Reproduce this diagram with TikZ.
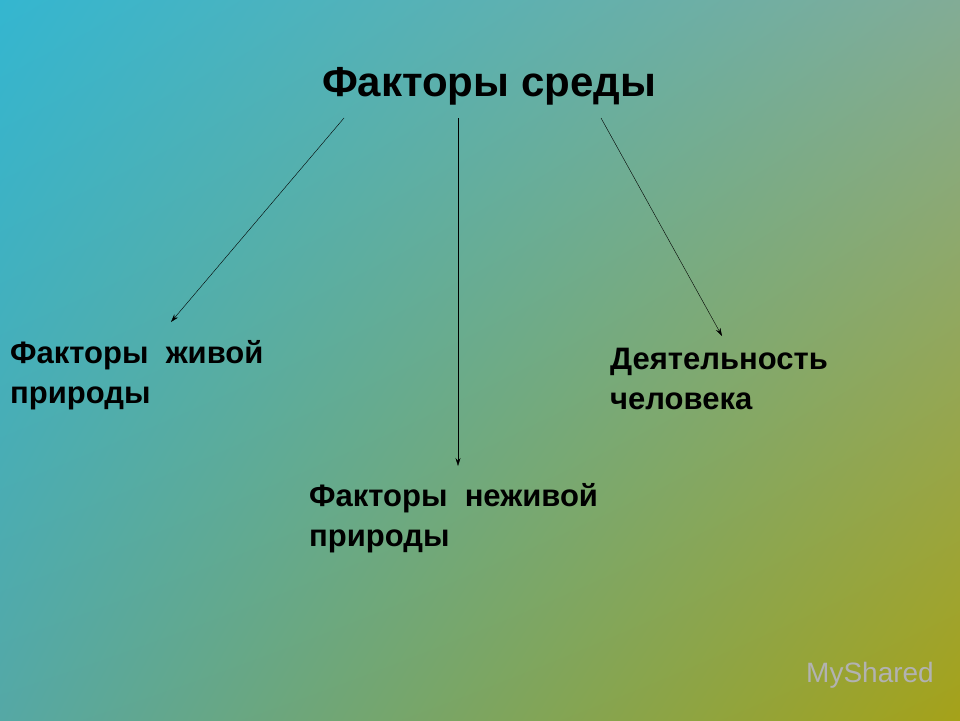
\documentclass[tikz,border=0pt]{standalone}
\usepackage{fontspec}
\setmainfont{Liberation Sans}
\usetikzlibrary{arrows.meta,shadings}
\definecolor{tl}{RGB}{52,182,208}
\definecolor{tr}{RGB}{130,172,150}
\definecolor{bl}{RGB}{85,168,165}
\definecolor{br}{RGB}{165,162,25}
\tikzset{lbl/.style={anchor=north west,align=left,font=\bfseries\fontsize{31}{40}\selectfont,inner sep=0pt},
arr/.style={-{Stealth[length=8pt,width=5pt]},thin}}
\begin{document}
\begin{tikzpicture}[x=1pt,y=-1pt]
\shade[upper left=tl,upper right=tr,lower left=bl,lower right=br] (0,0) rectangle (960,720);
\useasboundingbox (0,0) rectangle (960,720);
\node[anchor=base,font=\bfseries\fontsize{42}{40}\selectfont,inner sep=0pt] (t) at (489,96) {Факторы среды};
\node[lbl] (a) at (10,340) {Факторы\ \ живой\\природы};
\node[lbl] (b) at (309,483) {Факторы\ \ неживой\\природы};
\node[lbl] (c) at (610,348) {Деятельность\\человека};
\coordinate (a0) at (344,118); \coordinate (a1) at (171,322);
\coordinate (b0) at (458,118); \coordinate (b1) at (458,466);
\coordinate (c0) at (601,118); \coordinate (c1) at (722,336);
\draw[arr] (a0) -- (a1);
\draw[arr] (b0) -- (b1);
\draw[arr] (c0) -- (c1);
\node[anchor=west,text=gray!60,font=\fontsize{28}{28}\selectfont,inner sep=0pt] (w) at (806,675) {MyShared};
\end{tikzpicture}
\end{document}
